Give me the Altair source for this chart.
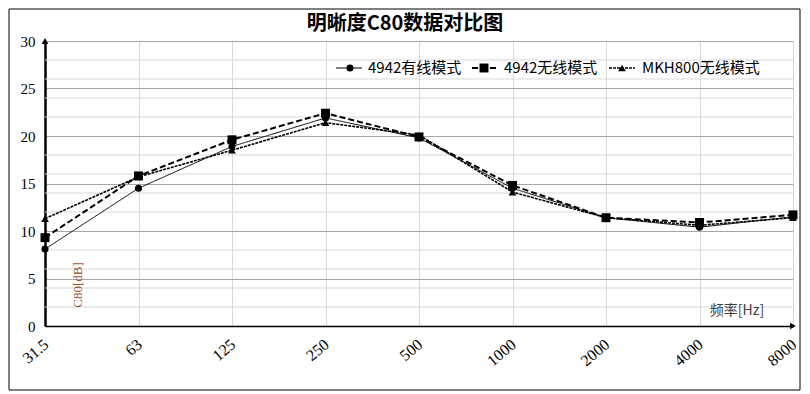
import altair as alt
import pandas as pd

# ---- data ----
freqs = ["31.5", "63", "125", "250", "500", "1000", "2000", "4000", "8000"]
wired_4942 = [8.1, 14.5, 18.9, 21.9, 19.8, 14.5, 11.4, 10.4, 11.5]
wireless_4942 = [9.3, 15.8, 19.6, 22.4, 19.9, 14.8, 11.4, 10.9, 11.7]
wireless_mkh800 = [11.3, 15.7, 18.5, 21.4, 20.1, 14.1, 11.4, 10.6, 11.4]
series_names = ["4942有线模式", "4942无线模式", "MKH800无线模式"]
y_major = [0, 5, 10, 15, 20, 25, 30]
y_minor = [2, 4, 6, 8, 12, 14, 16, 18, 22, 24, 26, 28]
title_text = "明晰度C80数据对比图"

WIDTH, HEIGHT = 748, 285
CJK = "Noto Sans CJK SC"
SERIF = "Liberation Serif"

values = [wired_4942, wireless_4942, wireless_mkh800]
rows = []
for name, vals in zip(series_names, values):
    for f, v in zip(freqs, vals):
        rows.append({"freq": f, "value": v, "series": name})
df = pd.DataFrame(rows)

x_enc = alt.X("freq:O", sort=freqs, scale=alt.Scale(type="point", padding=0),
              axis=alt.Axis(title=None, grid=True, gridColor="#d9d9d9", gridWidth=1,
                            domainColor="black", domainWidth=1.5, ticks=False,
                            labelAngle=-40, labelFont=SERIF, labelFontSize=16,
                            labelColor="black", labelPadding=16, labelAlign="right",
                            labelBaseline="middle", labelOffset=1))
y_scale = alt.Scale(domain=[0, 30], nice=False)
y_enc = alt.Y("value:Q", scale=y_scale,
              axis=alt.Axis(title=None, values=y_major, grid=True, gridColor="#a6a6a6",
                            gridWidth=1, domainColor="black", domainWidth=2.5, ticks=False,
                            labelFont=SERIF, labelFontSize=15, labelColor="black",
                            labelPadding=10))

styles = {
    "4942有线模式": dict(dash=[1, 0], width=1, shape="circle", size=50),
    "4942无线模式": dict(dash=[6, 3], width=2, shape="square", size=80),
    "MKH800无线模式": dict(dash=[3, 1], width=1.6, shape="triangle-up", size=60),
}

one = pd.DataFrame({"a": [0]})

# minor grid lines
minor = alt.Chart(pd.DataFrame({"value": y_minor})).mark_rule(
    color="#d9d9d9", strokeWidth=1).encode(y=alt.Y("value:Q", scale=y_scale))

layers = [minor]

for name in series_names:
    st = styles[name]
    base = alt.Chart(df).transform_filter(alt.datum.series == name)
    layers.append(base.mark_line(color="black", strokeWidth=st["width"],
                                 strokeDash=st["dash"]).encode(x=x_enc, y=y_enc))
    layers.append(base.mark_point(color="black", filled=True, opacity=1,
                                  shape=st["shape"], size=st["size"]).encode(x=x_enc, y=y_enc))

# legend (inside plot, top right)
legend_pos = [(291, 317, 305, 323), (427, 452, 439, 459), (564, 590, 577, 597)]
LEG_Y = 27
for name, (lx1, lx2, mx, tx) in zip(series_names, legend_pos):
    st = styles[name]
    layers.append(alt.Chart(one).mark_rule(color="black", strokeWidth=st["width"],
                                           strokeDash=st["dash"]).encode(
        x=alt.value(lx1), x2=alt.value(lx2), y=alt.value(LEG_Y)))
    layers.append(alt.Chart(one).mark_point(color="black", filled=True, opacity=1,
                                            shape=st["shape"], size=st["size"]).encode(
        x=alt.value(mx), y=alt.value(LEG_Y)))
    layers.append(alt.Chart(one).mark_text(align="left", baseline="middle", font=CJK,
                                           fontSize=15, color="black").encode(
        x=alt.value(tx), y=alt.value(LEG_Y), text=alt.value(name)))

# title
layers.append(alt.Chart(one).mark_text(align="center", baseline="middle", font=CJK,
                                       fontSize=20, fontWeight="bold", color="black").encode(
    x=alt.value(WIDTH / 2 - 14), y=alt.value(-17), text=alt.value(title_text)))

# axis annotations
layers.append(alt.Chart(one).mark_text(align="center", baseline="middle", font=CJK,
                                       fontSize=14, color="#404040").encode(
    x=alt.value(692), y=alt.value(270), text=alt.value("频率[Hz]")))
layers.append(alt.Chart(one).mark_text(align="center", baseline="middle", font=SERIF,
                                       fontSize=13, color="#a0522d", angle=270).encode(
    x=alt.value(33), y=alt.value(244), text=alt.value("C80[dB]")))

# axis arrowheads
layers.append(alt.Chart(pd.DataFrame({"freq": [freqs[0]], "value": [30]})).mark_point(
    shape="triangle-up", filled=True, color="black", opacity=1, size=45).encode(
    x=alt.X("freq:O", sort=freqs), y=alt.Y("value:Q", scale=y_scale)))
layers.append(alt.Chart(pd.DataFrame({"freq": [freqs[-1]], "value": [0]})).mark_point(
    shape="triangle-right", filled=True, color="black", opacity=1, size=45).encode(
    x=alt.X("freq:O", sort=freqs), y=alt.Y("value:Q", scale=y_scale)))

# outer border
layers.append(alt.Chart(one).mark_rect(fill="transparent", stroke="black",
                                       strokeWidth=1).encode(
    x=alt.value(-36), x2=alt.value(755), y=alt.value(-32), y2=alt.value(349)))

chart = alt.layer(*layers).properties(
    width=WIDTH, height=HEIGHT,
    autosize=alt.AutoSizeParams(type="none"),
    padding={"left": 37, "top": 33, "right": 8, "bottom": 66},
).configure_view(stroke=None).configure(background="white")

chart.save("out.html", embed_options={"renderer": "svg", "actions": False})
